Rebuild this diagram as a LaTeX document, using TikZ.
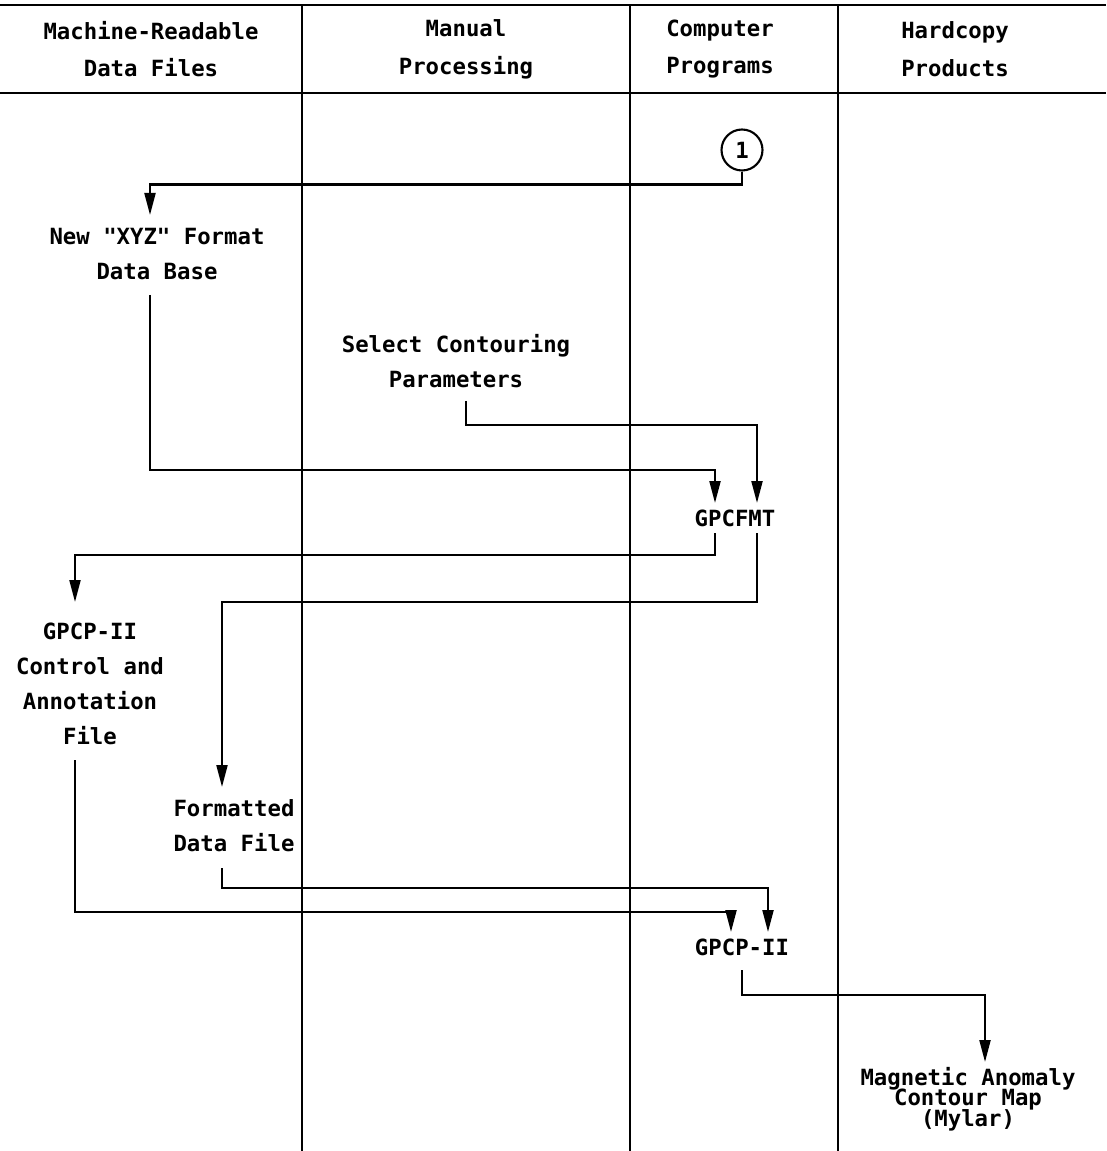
\documentclass[tikz,border=0pt]{standalone}
\usepackage{fontspec}
\setmonofont{DejaVu Sans Mono}
\usetikzlibrary{arrows.meta}

\tikzset{
  lane/.style={line width=1.2pt},
  wire/.style={line width=1.2pt},
  flow/.style={wire,-{Triangle[length=0.44cm,width=0.22cm]}},
  lbl/.style={font=\ttfamily\bfseries\fontsize{12.7}{20}\selectfont,align=center,inner sep=2pt},
  hdr/.style={lbl,font=\ttfamily\bfseries\fontsize{12.7}{21.5}\selectfont},
  tight/.style={lbl,font=\ttfamily\bfseries\fontsize{12.7}{10}\selectfont},
}

\begin{document}
\begin{tikzpicture}[x=0.02cm,y=-0.02cm]
\useasboundingbox (0,0) rectangle (1106,1151);

% swim lanes
\draw[lane] (0,5) -- (1106,5);
\draw[lane] (0,93) -- (1106,93);
\foreach \x in {302,630,838}
  \draw[lane] (\x,5) -- (\x,1151);

% column heads
\node[hdr] (hdFiles) at (151,49) {Machine-Readable\\Data Files};
\node[hdr] (hdManual) at (466,49) {Manual\\Processing};
\node[hdr] (hdProg) at (720,49) {Computer\\Programs};
\node[hdr] (hdCopy) at (955,49) {Hardcopy\\Products};

% steps
\node[draw,circle,line width=1.2pt,minimum size=0.82cm,inner sep=0pt,lbl] (conn) at (742,150) {1};
\node[lbl] (xyz) at (157,254) {New "XYZ" Format\\Data Base};
\node[lbl] (select) at (456,361) {Select Contouring\\Parameters};
\node[lbl] (gpcfmt) at (735,518) {GPCFMT};
\node[lbl] (ctlfile) at (90,684) {GPCP-II\\Control and\\Annotation\\File};
\node[lbl] (fmtfile) at (234,826) {Formatted\\Data File};
\node[lbl] (gpcp) at (742,947) {GPCP-II};
\node[tight] (cmap) at (968,1099) {Magnetic Anomaly\\[-1.6pt]Contour Map\\[-1.6pt](Mylar)};

% ends of the connectors
\coordinate (xyzIn) at (150,215);
\coordinate (xyzOut) at (150,295);
\coordinate (selOut) at (466,401);
\coordinate (fmtInA) at (715,503);
\coordinate (fmtInB) at (757,503);
\coordinate (fmtOutA) at (715,533);
\coordinate (fmtOutB) at (757,533);
\coordinate (ctlIn) at (75,602);
\coordinate (ctlOut) at (75,760);
\coordinate (fdfIn) at (222,787);
\coordinate (fdfOut) at (222,868);
\coordinate (gpInA) at (731,932);
\coordinate (gpInB) at (768,932);
\coordinate (gpOut) at (742,970);
\coordinate (mapIn) at (985,1062);

\draw[flow] (conn.south) -- ++(0,13) -| (xyzIn);
\draw[flow] (xyzOut) -- ++(0,175) -| (fmtInA);
\draw[flow] (selOut) -- ++(0,24) -| (fmtInB);
\draw[flow] (fmtOutA) -- ++(0,22) -| (ctlIn);
\draw[flow] (fmtOutB) -- ++(0,69) -| (fdfIn);
\draw[flow] (fdfOut) -- ++(0,20) -| (gpInB);
\draw[flow] (ctlOut) -- ++(0,152) -| (gpInA);
\draw[flow] (gpOut) -- ++(0,25) -| (mapIn);

\end{tikzpicture}
\end{document}
